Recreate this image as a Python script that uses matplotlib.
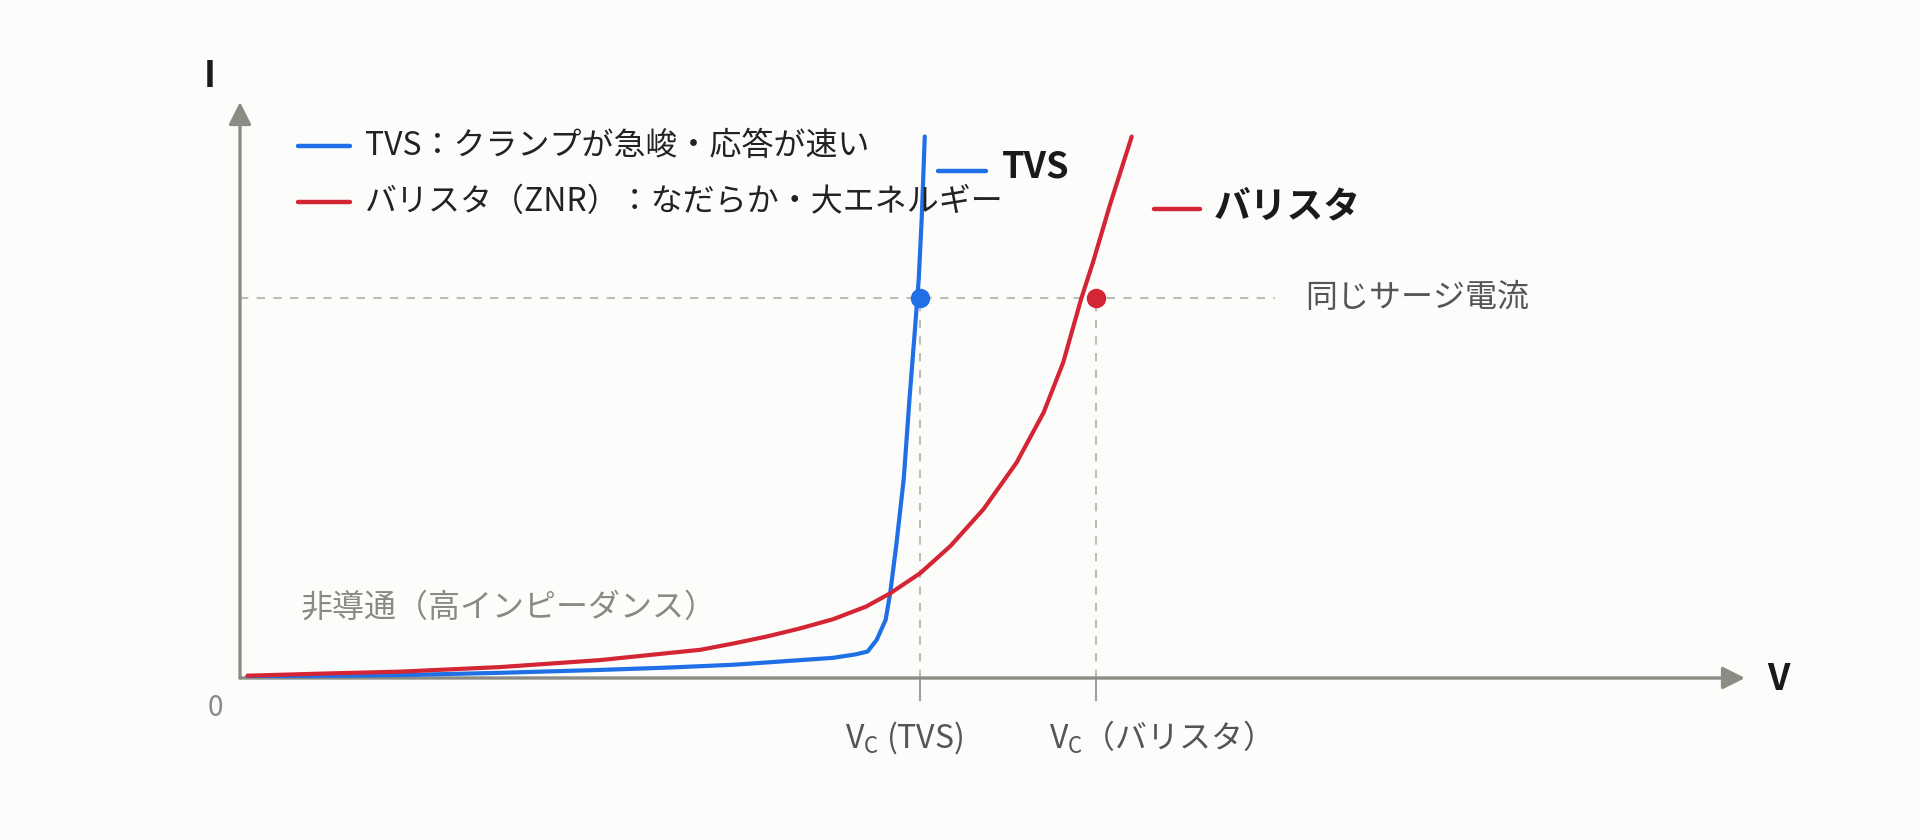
import matplotlib
matplotlib.use("Agg")
import matplotlib.pyplot as plt

plt.rcParams['font.family'] = ['Noto Sans CJK JP', 'DejaVu Sans']

# V-I curves (arbitrary units)
tvs_v = [0.05, 0.6, 1.06, 1.73, 2.39, 2.835, 3.28, 3.72, 3.94, 4.09, 4.17, 4.23, 4.29, 4.32, 4.36, 4.41, 4.45, 4.485, 4.51, 4.53, 4.55]
tvs_i = [0.03, 0.04, 0.05, 0.09, 0.14, 0.18, 0.23, 0.31, 0.35, 0.41, 0.46, 0.66, 1.01, 1.47, 2.29, 3.45, 4.90, 6.06, 6.93, 8.0, 9.40]
var_v = [0.05, 0.6, 1.06, 1.73, 2.39, 2.835, 3.06, 3.28, 3.50, 3.72, 3.94, 4.16, 4.32, 4.52, 4.72, 4.94, 5.16, 5.34, 5.47, 5.59, 5.668, 5.78, 5.925]
var_i = [0.04, 0.08, 0.11, 0.19, 0.31, 0.43, 0.49, 0.60, 0.72, 0.86, 1.02, 1.24, 1.47, 1.82, 2.29, 2.93, 3.74, 4.61, 5.48, 6.59, 7.22, 8.21, 9.40]

surge_i = 6.60
vc_tvs = 4.52
vc_var = 5.69

legend_labels = ["TVS：クランプが急峻・応答が速い", "バリスタ（ZNR）：なだらか・大エネルギー"]
tick_labels = ["V$_\\mathregular{C}$ (TVS)", "V$_\\mathregular{C}$（バリスタ）"]

blue = "#1f6fe6"
red = "#d42535"
axis_gray = "#8c8c85"
dash_gray = "#bdbdb8"
bg = "#fcfcfa"

fig = plt.figure(figsize=(19.2, 8.4), dpi=100, facecolor=bg)
ax = fig.add_axes([240/1920, (840-678)/840, 1505/1920, 576/840])
ax.set_facecolor(bg)
ax.set_xlim(0, 10)
ax.set_ylim(0, 10)
ax.axis("off")

# axes with arrows
arrow = dict(arrowstyle="-|>,head_length=13.5,head_width=6.8", mutation_scale=1,
             lw=2.4, color=axis_gray, shrinkA=0, shrinkB=0)
ax.annotate("", xy=(10, 0), xytext=(0, 0), arrowprops=arrow)
ax.annotate("", xy=(0, 10), xytext=(0, 0), arrowprops=arrow)
ax.text(-0.2, 10.45, "I", fontsize=26, fontweight="bold", color="#1a1a1a", ha="center", va="center")
ax.text(10.22, -0.02, "V", fontsize=26, fontweight="bold", color="#1a1a1a", ha="center", va="center")
ax.text(-0.166, -0.52, "0", fontsize=20, color="#8a8a8a", ha="center", va="center")

# guide lines for same surge current
ax.plot([0, 6.88], [surge_i, surge_i], color=dash_gray, lw=1.5, ls=(0, (4, 4)), zorder=1)
for vc in (vc_tvs, vc_var):
    ax.plot([vc, vc], [0, surge_i], color=dash_gray, lw=1.5, ls=(0, (4, 4)), zorder=1)
    ax.plot([vc, vc], [0, -0.38], color="#a0a0a0", lw=1.5, clip_on=False, zorder=1)
ax.text(7.08, surge_i, "同じサージ電流", fontsize=23, color="#555555", ha="left", va="center")

# curves
ax.plot(tvs_v, tvs_i, color=blue, lw=3.0, solid_capstyle="round", solid_joinstyle="round", zorder=3)
ax.plot(var_v, var_i, color=red, lw=3.0, solid_capstyle="round", solid_joinstyle="round", zorder=4)
ax.plot([vc_tvs], [surge_i], "o", ms=13, color=blue, zorder=5)
ax.plot([vc_var], [surge_i], "o", ms=13, color=red, zorder=5)

# tick labels under the axis
ax.text(vc_tvs - 0.11, -1.03, tick_labels[0], fontsize=23, color="#555555", ha="center", va="center")
ax.text(vc_var + 0.37, -1.03, tick_labels[1], fontsize=23, color="#555555", ha="center", va="center")

ax.text(0.405, 1.22, "非導通（高インピーダンス）", fontsize=23, color="#8a8a82", ha="left", va="center")

# legend (top left)
for k, (col, lab) in enumerate(zip([blue, red], legend_labels)):
    yy = 9.23 - k * 0.96
    ax.plot([0.385, 0.73], [yy, yy], color=col, lw=3.2, solid_capstyle="round")
    ax.text(0.83, yy, lab, fontsize=23, color="#222222", ha="left", va="center")

# direct labels next to curves
ax.plot([4.64, 4.96], [8.80, 8.80], color=blue, lw=3.2, solid_capstyle="round")
ax.text(5.06, 8.87, "TVS", fontsize=26, fontweight="bold", color="#1a1a1a", ha="left", va="center")
ax.plot([6.07, 6.38], [8.15, 8.15], color=red, lw=3.2, solid_capstyle="round")
ax.text(6.47, 8.18, "バリスタ", fontsize=26.5, fontweight="bold", color="#1a1a1a", ha="left", va="center")

fig.savefig("out.png", dpi=100, facecolor=bg)
